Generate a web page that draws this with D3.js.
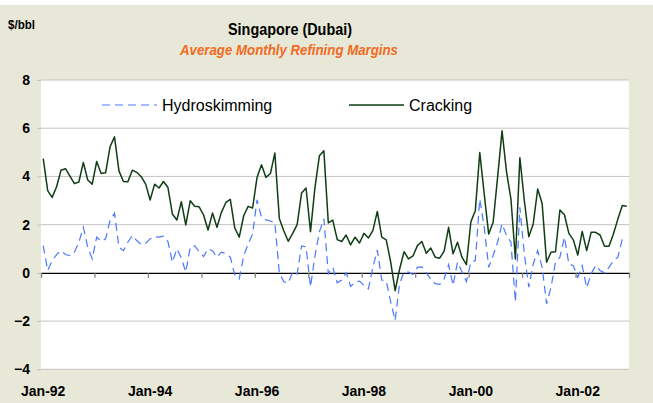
<!DOCTYPE html>
<html>
<head>
<meta charset="utf-8">
<script src="https://cdn.jsdelivr.net/npm/d3@7"></script>
<style>
  body { margin: 0; background: #fff; }
  svg { display: block; font-family: "Liberation Sans", Arial, sans-serif; }
</style>
</head>
<body>
<svg id="chart" width="653" height="403"></svg>
<script>
// Monthly values, Jan-92 .. Dec-02 ($/bbl)
const cracking = [
  4.74, 3.41, 3.13, 3.57, 4.26, 4.32, 4.01, 3.70, 3.77, 4.58, 3.85, 3.68,
  4.62, 4.12, 4.15, 5.23, 5.64, 4.23, 3.79, 3.78, 4.26, 4.17, 3.99, 3.68,
  3.02, 3.68, 3.52, 3.79, 3.54, 2.44, 2.19, 2.95, 1.99, 2.99, 2.76, 2.74,
  2.40, 1.78, 2.48, 1.89, 2.51, 2.92, 3.05, 1.86, 1.48, 2.37, 2.76, 2.69,
  3.96, 4.48, 3.96, 4.12, 4.97, 2.26, 1.75, 1.31, 1.64, 2.00, 3.31, 3.52,
  1.71, 3.54, 4.86, 5.06, 2.07, 2.19, 1.38, 1.30, 1.57, 1.16, 1.48, 1.24,
  1.64, 1.45, 1.75, 2.55, 1.48, 1.37, 0.45, -0.74, 0.15, 0.88, 0.58, 0.70,
  1.13, 1.30, 0.81, 1.03, 0.65, 0.61, 0.90, 1.89, 0.79, 1.27, 0.65, 0.34,
  2.12, 2.58, 4.99, 3.27, 1.61, 2.10, 3.96, 5.89, 4.20, 3.06, 0.58, 4.78,
  3.00, 1.50, 2.03, 3.48, 2.88, 0.44, 0.86, 0.88, 2.61, 2.41, 1.64, 1.37,
  0.74, 1.72, 0.92, 1.68, 1.68, 1.57, 1.10, 1.10, 1.61, 2.23, 2.79, 2.76
];
const hydroskimming = [
  1.13, 0.10, 0.50, 0.76, 0.92, 0.76, 0.72, 0.86, 1.27, 1.89, 1.06, 0.58,
  1.48, 1.31, 1.41, 2.17, 2.47, 1.06, 0.92, 1.27, 1.55, 1.34, 1.17, 1.23,
  1.41, 1.50, 1.48, 1.52, 1.30, 0.44, 1.00, 0.62, 0.03, 1.07, 1.13, 0.88,
  0.68, 1.00, 0.92, 0.65, 0.86, 0.80, 0.65, -0.08, -0.25, 0.70, 1.20, 1.61,
  3.03, 2.30, 2.20, 2.15, 2.08, 0.00, -0.37, -0.42, 0.04, -0.05, 1.12, 1.08,
  -0.58, 0.70, 1.70, 2.25, -0.04, 0.23, -0.41, -0.30, 0.00, -0.56, -0.39, -0.34,
  -0.52, -0.66, 0.23, 0.95, -0.30, -0.34, -1.20, -1.97, -0.45, 0.05, 0.03, -0.07,
  0.23, 0.25, 0.00, -0.25, -0.45, -0.48, -0.25, 0.34, -0.52, 0.44, 0.05, -0.36,
  0.44, 0.51, 3.06, 1.89, 0.23, 0.72, 1.27, 2.03, 1.55, 1.27, -1.21, 2.72,
  0.79, -0.59, 0.37, 0.92, 0.23, -1.28, -0.59, 0.44, 0.65, 1.48, 0.37, 0.30,
  -0.18, 0.30, -0.62, -0.04, 0.30, 0.10, 0.00, 0.23, 0.51, 0.65, 1.41, 1.41
];
const months = d3.timeMonth.range(new Date(1992, 0, 1), new Date(2003, 0, 1))
  .map(d3.timeFormat("%b-%y"));
const yTicks = [-4, -2, 0, 2, 4, 6, 8];
const xLabelIdx = d3.range(0, months.length, 24);

const svg = d3.select("#chart");
const plotL = 41, plotR = 629, plotT = 80, plotB = 369.3;

// background
svg.append("rect").attr("x", 0).attr("y", 5).attr("width", 653).attr("height", 398)
  .attr("fill", "#e8e8d8");
svg.append("rect").attr("x", plotL).attr("y", plotT)
  .attr("width", plotR - plotL).attr("height", plotB - plotT).attr("fill", "#fff");

const x = d3.scaleBand().domain(d3.range(months.length)).range([plotL, plotR]);
const xEdge = d3.scaleLinear().domain([0, months.length]).range([plotL, plotR]);
const y = d3.scaleLinear().domain([-4, 8]).range([plotB, plotT]);
const cx = i => x(i) + x.bandwidth() / 2;

// gridlines
svg.append("g").selectAll("line").data(yTicks.filter(v => v !== 0)).join("line")
  .attr("x1", plotL).attr("x2", plotR)
  .attr("y1", d => y(d)).attr("y2", d => y(d))
  .attr("stroke", "#c4c4c4").attr("stroke-width", 1);

// y axis
const yAxis = svg.append("g").attr("transform", `translate(${plotL},0)`)
  .call(d3.axisLeft(y).tickValues(yTicks).tickSize(4).tickPadding(7).tickFormat(d3.format("d")));
yAxis.select(".domain").remove();
yAxis.selectAll(".tick line").attr("stroke", "#c4c4c4");
yAxis.selectAll("text").attr("font-size", 14).attr("font-weight", "bold").attr("fill", "#000");

// x axis on zero line
const xAxis = svg.append("g").attr("transform", `translate(0,${y(0)})`)
  .call(d3.axisBottom(xEdge).tickValues(d3.range(0, months.length + 1, 12))
    .tickSize(5).tickSizeOuter(0).tickFormat(""));
xAxis.select(".domain").attr("stroke", "#000").attr("stroke-width", 1.3);
xAxis.selectAll(".tick line").attr("stroke", "#808080").attr("stroke-width", 1.3);

// x labels at bottom
svg.append("g").selectAll("text").data(xLabelIdx).join("text")
  .attr("x", d => cx(d)).attr("y", 396)
  .attr("text-anchor", "middle").attr("font-size", 14).attr("font-weight", "bold")
  .text(d => months[d]);

// lines
const line = d3.line().x((d, i) => cx(i)).y(d => y(d));
svg.append("path").datum(hydroskimming).attr("d", line)
  .attr("fill", "none").attr("stroke", "#4a78ff").attr("stroke-width", 1.2)
  .attr("stroke-dasharray", "8,5");
svg.append("path").datum(cracking).attr("d", line)
  .attr("fill", "none").attr("stroke", "#0f3d14").attr("stroke-width", 1.5)
  .attr("stroke-linejoin", "round");

// legend
const legend = svg.append("g");
legend.append("line").attr("x1", 102).attr("x2", 157).attr("y1", 105).attr("y2", 105)
  .attr("stroke", "#4a78ff").attr("stroke-width", 1.2).attr("stroke-dasharray", "8,5");
legend.append("text").attr("x", 162).attr("y", 111).attr("font-size", 16).text("Hydroskimming");
legend.append("line").attr("x1", 349).attr("x2", 404).attr("y1", 105).attr("y2", 105)
  .attr("stroke", "#0f3d14").attr("stroke-width", 1.5);
legend.append("text").attr("x", 409).attr("y", 111).attr("font-size", 16).text("Cracking");

// titles
svg.append("text").attr("x", 8).attr("y", 28.5).attr("font-size", 13).attr("font-weight", "bold")
  .attr("textLength", 27).attr("lengthAdjust", "spacingAndGlyphs")
  .text("$/bbl");
svg.append("text").attr("x", 290).attr("y", 35).attr("text-anchor", "middle")
  .attr("font-size", 16.5).attr("font-weight", "bold")
  .attr("textLength", 124).attr("lengthAdjust", "spacingAndGlyphs")
  .text("Singapore (Dubai)");
svg.append("text").attr("x", 289).attr("y", 55).attr("text-anchor", "middle")
  .attr("font-size", 15).attr("font-weight", "bold").attr("font-style", "italic")
  .attr("fill", "#f26a22")
  .attr("textLength", 218).attr("lengthAdjust", "spacingAndGlyphs")
  .text("Average Monthly Refining Margins");
</script>
</body>
</html>
